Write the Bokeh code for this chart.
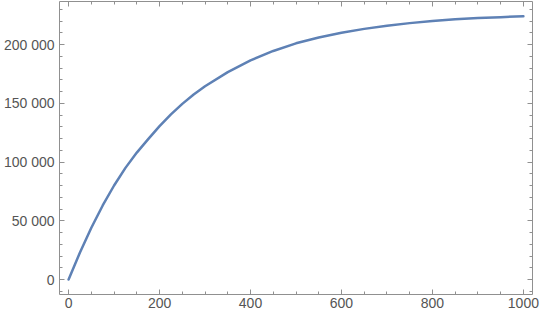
from bokeh.plotting import figure
from bokeh.models import FixedTicker, LinearAxis, Range1d, CustomJSTickFormatter
from bokeh.embed import file_html
from bokeh.resources import INLINE

# Data
x_vals = [0, 25, 50, 75, 100, 125, 150, 175, 200, 225, 250, 275, 300, 350, 400, 450,
          500, 550, 600, 650, 700, 750, 800, 850, 900, 950, 1000]
y_vals = [0, 23000, 44000, 63000, 80000, 95000, 108000, 119500, 130500, 140500, 149500,
          157500, 164500, 176500, 186500, 194500, 201000, 206000, 210000, 213300, 216000,
          218200, 220000, 221400, 222500, 223300, 224000]

x_ticks = [0, 200, 400, 600, 800, 1000]
x_minor = [v for v in range(0, 1001, 50)]
y_ticks = [0, 50000, 100000, 150000, 200000]
y_minor = [v for v in range(-10000, 240001, 10000)]
y_labels = ["0", "50 000", "100 000", "150 000", "200 000"]
x_labels = ["0", "200", "400", "600", "800", "1000"]

LINE = "#5E81B5"
FRAME = "#909090"
TEXT = "#555555"
FONT = "Liberation Sans"

p = figure(width=540, height=317, output_backend="svg", toolbar_location=None,
           x_range=Range1d(-20, 1020), y_range=Range1d(-12766, 236600),
           x_axis_location=None, y_axis_location=None,
           min_border_left=57, min_border_right=8, min_border_top=1, min_border_bottom=23)
p.outline_line_color = None
p.xgrid.visible = False
p.ygrid.visible = False
p.background_fill_color = "white"
p.border_fill_color = "white"

p.line(x_vals, y_vals, line_color=LINE, line_width=2.5, line_join="round", line_cap="round")


def style(ax, ticks, minor, labels):
    ax.ticker = FixedTicker(ticks=ticks, minor_ticks=minor)
    ax.axis_line_color = FRAME
    ax.major_tick_line_color = FRAME
    ax.minor_tick_line_color = FRAME
    ax.major_tick_in = 5
    ax.major_tick_out = 0
    ax.minor_tick_in = 3
    ax.minor_tick_out = 0
    ax.major_label_text_color = TEXT
    ax.major_label_text_font = FONT
    ax.major_label_text_font_size = "14px"
    if labels is not None:
        ax.major_label_overrides = {t: l for t, l in zip(ticks, labels)}
        ax.major_label_standoff = 5
    else:
        ax.formatter = CustomJSTickFormatter(code="return '';")
        ax.major_label_standoff = 0


left = LinearAxis()
style(left, y_ticks, y_minor, y_labels)
p.add_layout(left, "left")

bottom = LinearAxis()
style(bottom, x_ticks, x_minor, x_labels)
bottom.major_label_standoff = 3
p.add_layout(bottom, "below")

right = LinearAxis()
style(right, y_ticks, y_minor, None)
p.add_layout(right, "right")

top = LinearAxis()
style(top, x_ticks, x_minor, None)
p.add_layout(top, "above")

open("out.html", "w").write(file_html(p, INLINE))
